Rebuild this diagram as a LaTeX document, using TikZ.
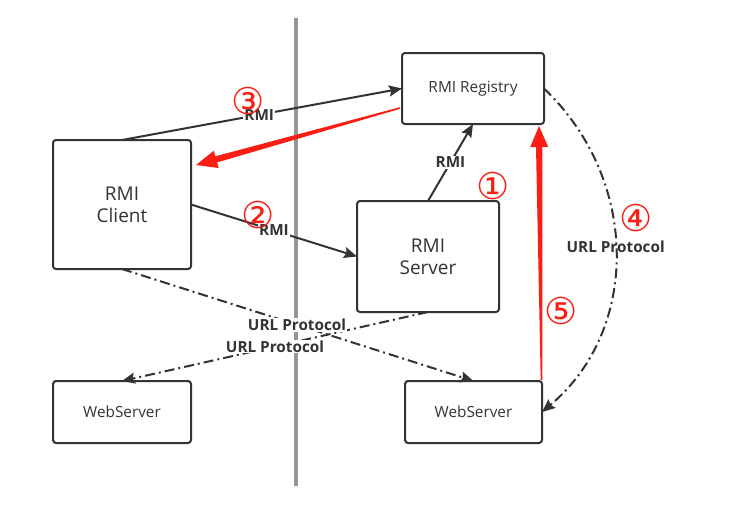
\documentclass[tikz,border=0pt]{standalone}
\usepackage{fontspec}
\setmainfont{Open Sans}
\newfontfamily\symf{DejaVu Sans}
\usetikzlibrary{arrows.meta,calc}
\definecolor{ink}{RGB}{51,51,51}
\definecolor{redc}{RGB}{250,30,20}
\definecolor{vline}{RGB}{150,150,150}
\tikzset{
 box/.style={draw=ink, line width=2pt, rounded corners=3pt, inner sep=0pt, outer sep=0pt, text=ink, align=center},
 conn/.style={draw=ink, line width=2pt, -{Stealth[length=13pt,width=11pt,inset=2pt]}},
 dd/.style={conn, dash pattern=on 10pt off 4pt on 2pt off 4pt},
 lab/.style={font=\bfseries\fontsize{15.3}{17}\selectfont, text=ink, fill=white, inner sep=1pt},
 num/.style={font=\symf\fontsize{37}{37}\selectfont, text=redc, inner sep=0pt},
}
\newcommand\redarrow[2]{%
 \coordinate (hb) at ($(#2)!21pt!(#1)$);
 \fill[redc] ($(#1)!0.8pt!90:(#2)$) -- ($(hb)!3.2pt!-90:(#1)$) -- ($(hb)!9pt!-90:(#1)$) -- (#2) -- ($(hb)!9pt!90:(#1)$) -- ($(hb)!3.2pt!90:(#1)$) -- ($(#1)!0.8pt!-90:(#2)$) -- cycle;
}
\begin{document}
\begin{tikzpicture}[x=1pt,y=-1pt]
\fill[white] (0,0) rectangle (746,520);
\useasboundingbox (0,0) rectangle (746,520);
% divider
\coordinate (vt) at (296,18);
\coordinate (vb) at (296,486);
\draw[vline, line width=3.5pt] (vt) -- (vb);
% boxes
\node[box, minimum width=142pt, minimum height=71pt, font=\fontsize{15.4}{18}\selectfont] (reg) at (473,88.5) {RMI Registry};
\node[box, minimum width=138pt, minimum height=129pt, font=\fontsize{19}{22}\selectfont] (cli) at (122,204.5) {RMI\\Client};
\node[box, minimum width=142pt, minimum height=111pt, font=\fontsize{19}{22}\selectfont] (srv) at (428,256.5) {RMI\\Server};
\node[box, minimum width=138pt, minimum height=62pt, font=\fontsize{15.3}{18}\selectfont] (wsl) at (122,412) {WebServer};
\node[box, minimum width=137pt, minimum height=62pt, font=\fontsize{15.3}{18}\selectfont] (wsr) at (473.5,412) {WebServer};
% connectors
\draw[conn] (cli.north) -- node[lab, pos=0.49] {RMI} (reg.west);
\draw[conn] (cli.east) -- node[lab, pos=0.5] {RMI} (srv.west);
\draw[conn] (srv.north) -- node[lab, pos=0.5] {RMI} (reg.south);
\draw[dd] (cli.south) -- (wsr.north);
\draw[dd] (srv.south) -- (wsl.north);
\draw[dd] (reg.east) .. controls (640,180) and (640,330) .. node[lab, pos=0.48, fill=none] {URL Protocol} (wsr.east);
\path (cli.south) -- node[lab, pos=0.498] {URL Protocol} (wsr.north);
\path (srv.south) -- node[lab, pos=0.5] {URL Protocol} (wsl.north);
% red arrows
\coordinate (r3t) at (400,108);
\coordinate (r3h) at (196,165);
\redarrow{r3t}{r3h}
\coordinate (r5t) at (541.5,380);
\coordinate (r5h) at (539,126);
\redarrow{r5t}{r5h}
% numbers
\node[num] (n1) at (493,186) {①};
\node[num] (n2) at (258,215) {②};
\node[num] (n3) at (248,101) {③};
\node[num] (n4) at (636,218) {④};
\node[num] (n5) at (561,311) {⑤};
\end{tikzpicture}
\end{document}
